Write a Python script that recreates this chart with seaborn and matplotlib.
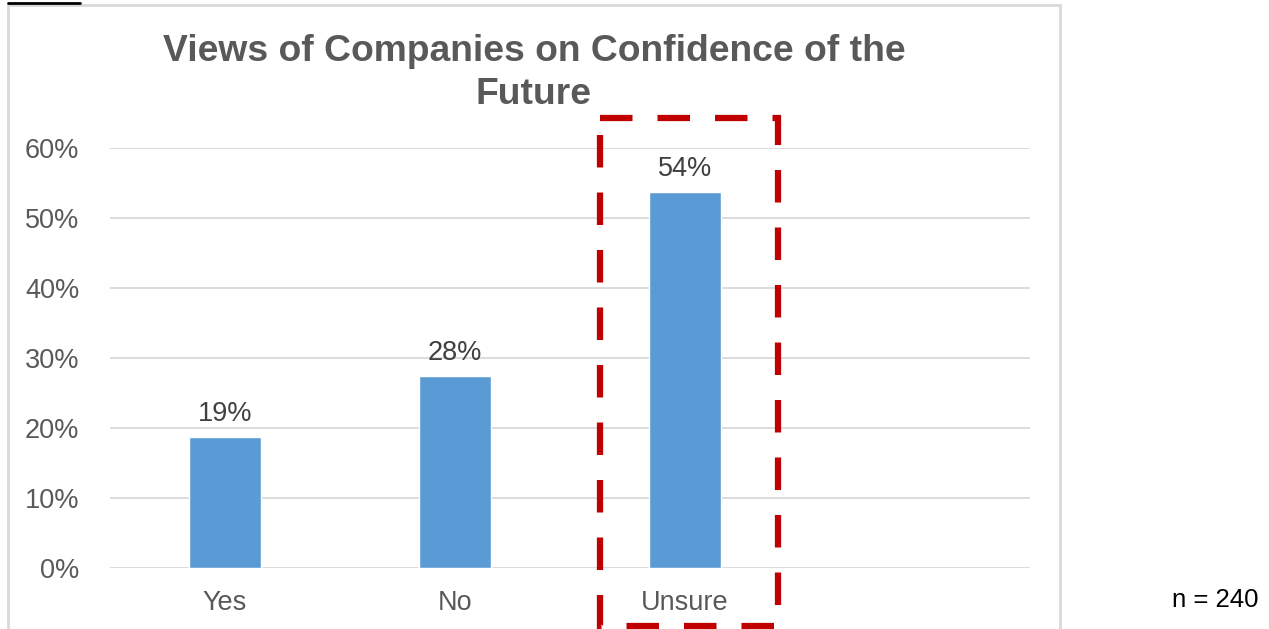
import matplotlib
matplotlib.use("Agg")
import matplotlib.pyplot as plt
import seaborn as sns
import pandas as pd
from matplotlib.patches import Rectangle
from matplotlib.lines import Line2D
from matplotlib.ticker import PercentFormatter

categories = ["Yes", "No", "Unsure"]
values = [0.187, 0.274, 0.537]
labels = ["19%", "28%", "54%"]
order = categories + [" "]
n_text = "n = 240"
title = "Views of Companies on Confidence of the\nFuture"

sns.set_style("white")
plt.rcParams["font.family"] = ["Liberation Sans", "DejaVu Sans"]

W, H = 1269, 629
fig = plt.figure(figsize=(W / 100, H / 100), dpi=100)
ax = fig.add_axes([110 / W, 1 - 568 / H, 920 / W, 420 / H])

df = pd.DataFrame({"cat": categories, "val": values})
sns.barplot(data=df, x="cat", y="val", order=order, color="#5b9bd5",
            saturation=1, width=0.31, ax=ax)

ax.set_ylim(0, 0.6)
ax.set_xlim(-0.5, 3.5)
ax.yaxis.set_major_formatter(PercentFormatter(1.0, decimals=0))
ax.set_yticks([i / 10 for i in range(7)])
ax.grid(axis="y", color="#d9d9d9", lw=1.3)
ax.set_axisbelow(True)
for s in ax.spines.values():
    s.set_visible(False)
ax.set_xlabel("")
ax.set_ylabel("")
ax.tick_params(axis="both", length=0, labelsize=19.5, colors="#595959")
ax.tick_params(axis="x", pad=16)
ax.tick_params(axis="y", pad=22)

for i, (v, lab) in enumerate(zip(values, labels)):
    ax.annotate(lab, (i, v), xytext=(0, 7), textcoords="offset points",
                ha="center", va="bottom", fontsize=19.5, color="#404040")

# chart area border
fig.add_artist(Rectangle((8 / W, -0.05), 1052 / W, 1.05 - 5 / H,
                         transform=fig.transFigure, fill=False,
                         ec="#d9d9d9", lw=2))
fig.add_artist(Line2D([8 / W, 80 / W], [1 - 3 / H, 1 - 3 / H],
                      transform=fig.transFigure, color="black", lw=2))

fig.text(534 / W, 1 - 73 / H, title, ha="center", va="center",
         fontsize=26.8, fontweight="bold", color="#595959", linespacing=1.3)

# red dashed highlight box, drawn clockwise from the top-left corner
bx0, bx1, by0, by1 = 600, 778, 118, 626
box_x = [bx0, bx1, bx1, bx0, bx0]
box_y = [by0, by0, by1, by1, by0]
fig.add_artist(Line2D([x / W for x in box_x], [1 - y / H for y in box_y],
                      transform=fig.transFigure, color="#c00000", lw=4.5,
                      ls=(0, (5.2, 4)), dash_capstyle="butt",
                      solid_joinstyle="miter", dash_joinstyle="miter"))

fig.text(1215 / W, 1 - 600 / H, n_text, ha="center", va="center",
         fontsize=18.5, color="black")

fig.savefig("out.png", dpi=100)
